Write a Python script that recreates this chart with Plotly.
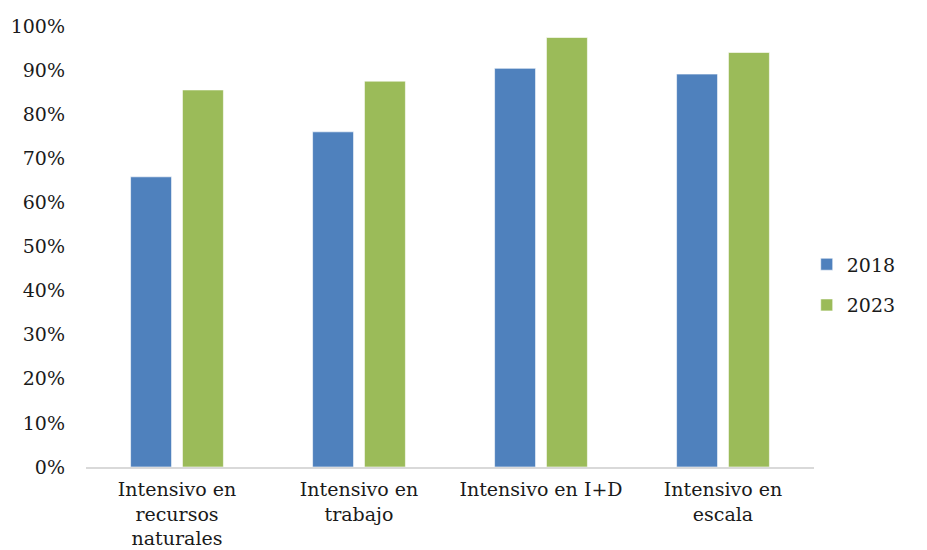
import plotly.graph_objects as go

categories = [
    "Intensivo en<br>recursos<br>naturales",
    "Intensivo en<br>trabajo",
    "Intensivo en I+D",
    "Intensivo en<br>escala",
]
values_2018 = [0.658, 0.760, 0.904, 0.891]
values_2023 = [0.855, 0.875, 0.974, 0.940]
y_ticks = [0, 0.1, 0.2, 0.3, 0.4, 0.5, 0.6, 0.7, 0.8, 0.9, 1.0]

font_family = "DejaVu Serif"
font_size = 19

fig = go.Figure()
fig.add_trace(go.Bar(
    name="2018", x=categories, y=values_2018,
    marker=dict(color="#4f81bd", line=dict(color="rgba(255,255,255,0.6)", width=1)),
    legendgroup="a",
))
fig.add_trace(go.Bar(
    name="2023", x=categories, y=values_2023,
    marker=dict(color="#9bbb59", line=dict(color="rgba(255,255,255,0.6)", width=1)),
    legendgroup="b",
))

fig.update_layout(
    width=927, height=550,
    margin=dict(l=86, r=113, t=26, b=83, autoexpand=False),
    paper_bgcolor="white", plot_bgcolor="white",
    font=dict(family=font_family, size=font_size, color="#1a1a1a"),
    barmode="group", bargap=0.43, bargroupgap=0.21,
    showlegend=True,
    legend=dict(
        x=0.99, xanchor="left", y=0.413, yanchor="middle",
        traceorder="grouped", tracegroupgap=13,
        font=dict(family=font_family, size=font_size),
        itemwidth=30,
    ),
    xaxis=dict(
        showline=True, linecolor="#d9d9d9", linewidth=2,
        ticks="", showgrid=False, tickfont=dict(size=font_size),
        ticklabelstandoff=4,
    ),
    yaxis=dict(
        range=[0, 1.0], tickvals=y_ticks, tickformat=".0%",
        showgrid=False, zeroline=False, showline=False,
        ticks="", ticklabelstandoff=20, tickfont=dict(size=font_size),
    ),
)

fig.write_html("out.html")
